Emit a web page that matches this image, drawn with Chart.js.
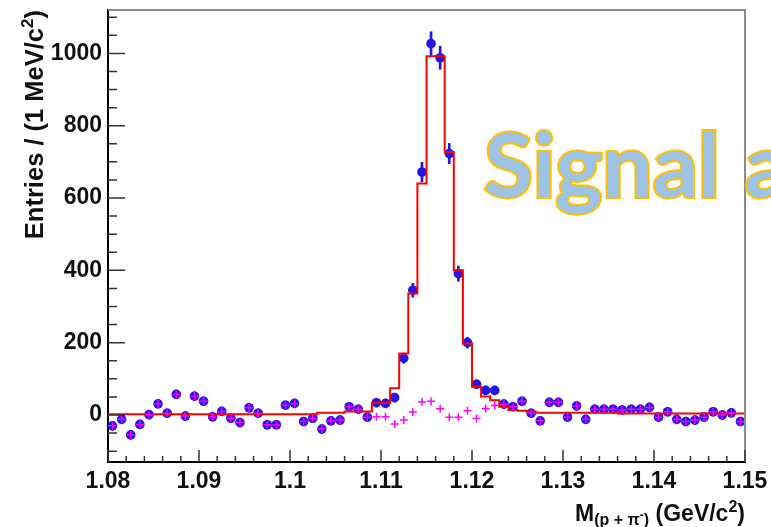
<!DOCTYPE html>
<html lang="en">

<head>
    <meta charset="UTF-8">
    <title>Invariant mass p pi</title>
    <style>
        body {
            margin: 0;
            padding: 0;
            background: #fff;
        }

        #wrap {
            position: relative;
            width: 771px;
            height: 527px;
            overflow: hidden;
        }

        #chart {
            position: absolute;
            left: 0;
            top: 0;
        }

        #labels {
            position: absolute;
            left: 0;
            top: 0;
        }

        .axis-title {
            font-family: 'Liberation Sans', Arial, sans-serif;
            font-weight: bold;
            fill: #111;
        }

        .banner {
            font-family: Lato, 'Open Sans', sans-serif;
            font-weight: bold;
            fill: #9dc3e6;
            stroke: #ffc000;
            stroke-width: 4px;
            paint-order: stroke;
        }
    </style>
</head>

<body>
    <div id="wrap">
        <canvas id="chart" width="771" height="527"></canvas>
        <svg id="labels" width="771" height="527">
            <text class="axis-title" transform="translate(43,10) rotate(-90)" text-anchor="end" font-size="25.5">Entries / (1 MeV/c<tspan font-size="17" dy="-10">2</tspan><tspan dy="10">)</tspan></text>
            <text class="axis-title" x="745" y="521" text-anchor="end" font-size="23">M<tspan font-size="16" dy="4">(p + π<tspan font-size="12" dy="-6">-</tspan><tspan dy="6">)</tspan></tspan><tspan dy="-4"> (GeV/c</tspan><tspan font-size="16" dy="-9">2</tspan><tspan dy="9">)</tspan></text>
            <text class="banner" x="484" y="197" font-size="88" textLength="236" lengthAdjust="spacingAndGlyphs">Signal</text>
            <text class="banner" x="745" y="197" font-size="88">a</text>
        </svg>
    </div>

    <script src="https://cdn.jsdelivr.net/npm/chart.js"></script>
    <script>
        // binning: 70 bins of 1 MeV from 1.080 to 1.150 GeV
        const xMin = 1.08;
        const xMax = 1.15;
        const binWidth = 0.001;
        const yMin = -130;
        const yMax = 1120;

        // data points (blue), read per bin
        const dataValues = [
            -30, -12, -55, -26, 1, 31, 5, 57, -3, 52,
            38, -5, 10, -9, -21, 20, 5, -27, -27, 27,
            32, -18, -9, -39, -16, -14, 23, 16, -6, 34,
            32, 48, 157, 345, 672, 1027, 988, 723, 391, 200,
            85, 68, 68, 30, 23, 38, 5, -16, 35, 35,
            -6, 25, -12, 16, 16, 16, 14, 16, 16, 21,
            -6, 9, -12, -18, -14, -6, 9, 0, 6, -18
        ];

        const dataErrors = [
            12, 12, 12, 12, 12, 12, 12, 12, 12, 12,
            12, 12, 12, 12, 12, 12, 12, 12, 12, 12,
            12, 12, 12, 12, 12, 12, 12, 12, 12, 12,
            12, 12, 14, 19, 27, 33, 32, 28, 21, 15,
            12, 12, 12, 12, 12, 12, 12, 12, 12, 12,
            12, 12, 12, 12, 12, 12, 12, 12, 12, 12,
            12, 12, 12, 12, 12, 12, 12, 12, 12, 12
        ];

        // magenta crosses
        const crossValues = [
            -30, -12, -55, -26, 1, 31, 5, 57, -3, 52,
            38, -5, 10, -9, -21, 20, 5, -27, -27, 27,
            32, -18, -9, -39, -16, -14, 23, 16, -6, -5,
            -5, -25, -14, 8, 36, 38, 17, -6, -6, 12,
            -10, 18, 26, 30, 23, 38, 5, -16, 35, 35,
            -6, 25, -12, 16, 16, 16, 14, 16, 16, 21,
            -6, 9, -12, -18, -14, -6, 9, 0, 6, -18
        ];

        // red histogram
        const fitValues = [
            2, 2, 2, 2, 2, 2, 2, 2, 2, 2,
            2, 2, 2, 2, 2, 2, 2, 2, 2, 2,
            2, 2, 2, 6, 6, 6, 10, 10, 10, 33,
            33, 74, 170, 336, 640, 992, 992, 727, 400, 198,
            78, 51, 41, 23, 14, 12, 10, 6, 6, 6,
            6, 6, 6, 6, 6, 6, 4, 4, 4, 4,
            4, 4, 4, 4, 4, 4, 4, 4, 4, 4
        ];

        const xTickValues = [1.08, 1.09, 1.10, 1.11, 1.12, 1.13, 1.14, 1.15];
        const xTickLabels = ['1.08', '1.09', '1.1', '1.11', '1.12', '1.13', '1.14', '1.15'];
        const yTickValues = [0, 200, 400, 600, 800, 1000];

        const binCenters = dataValues.map((_, i) => xMin + (i + 0.5) * binWidth);

        const histPoints = fitValues.map((v, i) => ({ x: xMin + i * binWidth, y: v }));
        histPoints.push({ x: xMax, y: fitValues[fitValues.length - 1] });

        const blue = '#2414e6';
        const tickFont = { family: "'Liberation Sans', Arial, sans-serif", size: 23, weight: 'bold' };

        // ROOT style frame: grey top/right edge, inward ticks
        const frameTicks = {
            id: 'frameTicks',
            afterDatasetsDraw(chart) {
                const { ctx, chartArea: a, scales: { x, y } } = chart;
                ctx.save();
                ctx.strokeStyle = '#8c8c8c';
                ctx.lineWidth = 2;
                ctx.beginPath();
                ctx.moveTo(a.left, a.top);
                ctx.lineTo(a.right, a.top);
                ctx.lineTo(a.right, a.bottom);
                ctx.stroke();

                ctx.strokeStyle = '#333';
                ctx.lineWidth = 1.5;
                ctx.beginPath();
                for (let v = -100; v <= 1100; v += 50) {
                    const py = y.getPixelForValue(v);
                    const len = v % 200 === 0 ? 17 : 9;
                    ctx.moveTo(a.left, py);
                    ctx.lineTo(a.left + len, py);
                }
                for (let k = 0; k <= 35; k++) {
                    const px = x.getPixelForValue(xMin + k * 0.002);
                    const len = k % 5 === 0 ? 12 : 6;
                    ctx.moveTo(px, a.bottom);
                    ctx.lineTo(px, a.bottom - len);
                }
                ctx.stroke();
                ctx.restore();
            }
        };

        new Chart(document.getElementById('chart'), {
            type: 'scatter',
            data: {
                datasets: [
                    {
                        type: 'scatter',
                        data: binCenters.map((x, i) => ({ x: x, y: crossValues[i] })),
                        pointStyle: 'cross',
                        pointRadius: 4,
                        borderColor: '#ff00ff',
                        borderWidth: 1.5,
                        order: 1
                    },
                    {
                        type: 'line',
                        data: histPoints,
                        stepped: 'before',
                        borderColor: '#ff0000',
                        borderWidth: 2,
                        pointRadius: 0,
                        fill: false,
                        order: 2
                    },
                    {
                        type: 'scatter',
                        data: binCenters.map((x, i) => ({ x: x, y: dataValues[i] })),
                        pointStyle: 'circle',
                        pointRadius: 4.8,
                        backgroundColor: blue,
                        borderColor: blue,
                        borderWidth: 0,
                        order: 3
                    },
                    {
                        type: 'bar',
                        data: binCenters.map((x, i) => ({ x: x, y: [dataValues[i] - dataErrors[i], dataValues[i] + dataErrors[i]] })),
                        backgroundColor: blue,
                        barThickness: 2,
                        grouped: false,
                        order: 4
                    }
                ]
            },
            options: {
                responsive: false,
                animation: false,
                devicePixelRatio: 1,
                layout: { padding: { top: 10, right: 26, left: 0, bottom: 0 } },
                plugins: {
                    legend: { display: false },
                    tooltip: { enabled: false }
                },
                scales: {
                    x: {
                        type: 'linear',
                        min: xMin,
                        max: xMax,
                        offset: false,
                        grid: { display: false, drawTicks: false },
                        border: { display: true, color: '#000', width: 2 },
                        ticks: {
                            font: tickFont,
                            color: '#111',
                            padding: 6,
                            autoSkip: false,
                            maxRotation: 0,
                            callback: (v, i) => xTickLabels[i]
                        },
                        afterBuildTicks: s => { s.ticks = xTickValues.map(v => ({ value: v })); },
                        afterFit: s => { s.height = 65; s.paddingLeft = 0; s.paddingRight = 0; }
                    },
                    y: {
                        type: 'linear',
                        min: yMin,
                        max: yMax,
                        grid: { display: false, drawTicks: false },
                        border: { display: true, color: '#000', width: 2 },
                        ticks: {
                            font: tickFont,
                            color: '#111',
                            padding: 6,
                            callback: v => String(v)
                        },
                        afterBuildTicks: s => { s.ticks = yTickValues.map(v => ({ value: v })); },
                        afterFit: s => { s.width = 108; s.paddingTop = 0; s.paddingBottom = 0; }
                    }
                }
            },
            plugins: [frameTicks]
        });
    </script>

</body>

</html>
